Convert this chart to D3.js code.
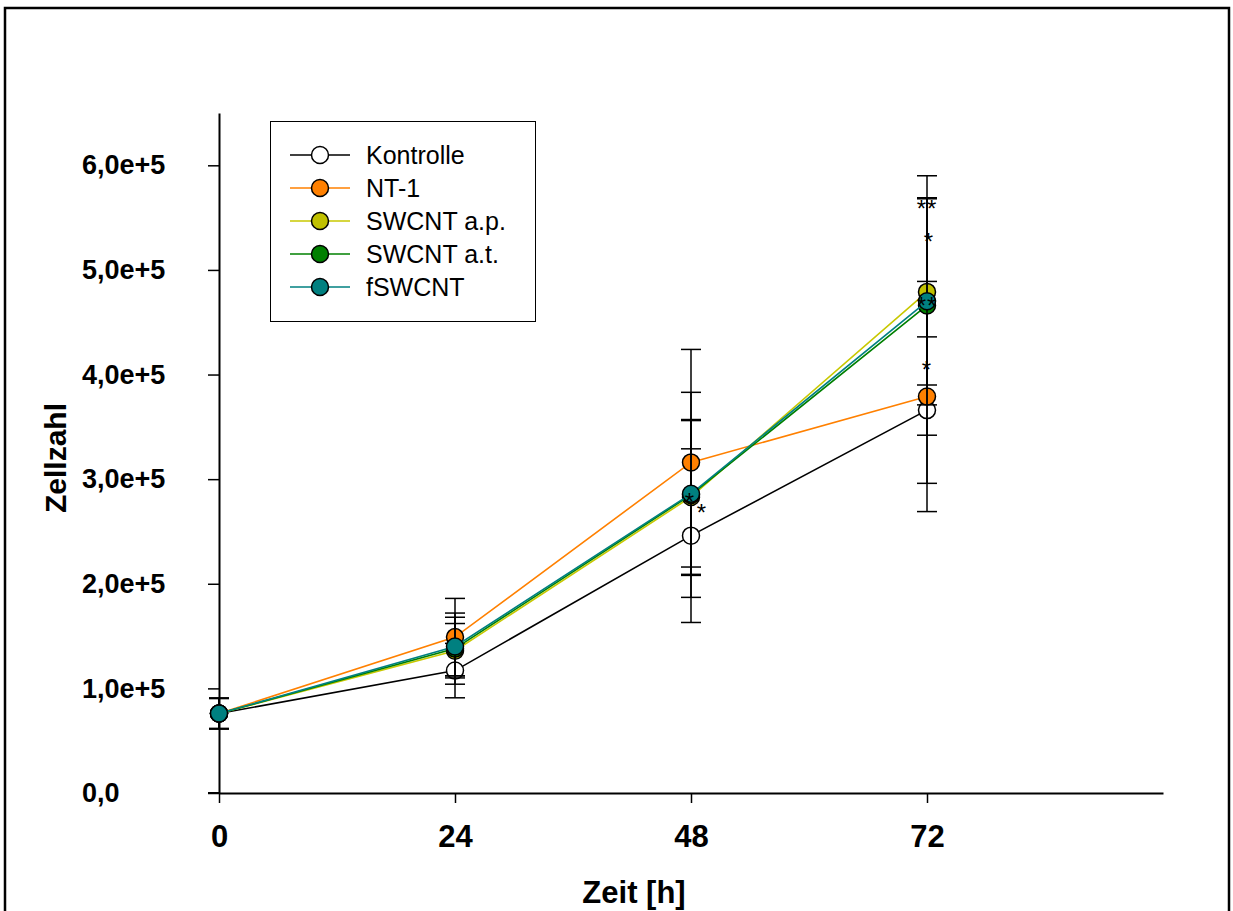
<!DOCTYPE html>
<html><head><meta charset="utf-8">
<script src="https://cdn.jsdelivr.net/npm/d3@7"></script>
<style>body{margin:0;background:#fff}svg{display:block}</style>
</head><body>
<script>
const times = [0, 24, 48, 72];
const seriesNames = ["Kontrolle", "NT-1", "SWCNT a.p.", "SWCNT a.t.", "fSWCNT"];
const kontrolle = [76000, 117000, 246000, 366000];
const kontrolleErr = [14500, 26000, 83000, 70000];
const nt1 = [76000, 149000, 316000, 379000];
const nt1Err = [14500, 37000, 108000, 110000];
const swcntAp = [76000, 136000, 283000, 479000];
const swcntApErr = [14500, 26000, 74000, 89000];
const swcntAt = [76000, 138000, 285000, 466000];
const swcntAtErr = [14500, 34000, 98000, 124000];
const fswcnt = [76000, 140000, 286000, 470000];
const fswcntErr = [14500, 28000, 70000, 99000];
const lineColors = ["#000000", "#FF8000", "#C8C800", "#008000", "#008080"];
const fillColors = ["#FFFFFF", "#FF8000", "#C0C000", "#008000", "#008080"];
const yTicks = [0, 100000, 200000, 300000, 400000, 500000, 600000];
const yTickLabels = ["0,0", "1,0e+5", "2,0e+5", "3,0e+5", "4,0e+5", "5,0e+5", "6,0e+5"];
const xTicks = [0, 24, 48, 72];
const xTickLabels = ["0", "24", "48", "72"];
// significance marks: time, value, text
const sigTime = [72, 72.2, 72, 72, 47.9, 49.1];
const sigValue = [565000, 533000, 472000, 411000, 285000, 274000];
const sigText = ["**", "*", "**", "*", "*", "*"];

const values = [kontrolle, nt1, swcntAp, swcntAt, fswcnt];
const errs = [kontrolleErr, nt1Err, swcntApErr, swcntAtErr, fswcntErr];

const W = 1233, H = 911;
const svg = d3.select("body").append("svg").attr("width", W).attr("height", H);
svg.append("rect").attr("x", 5).attr("y", 8).attr("width", 1224).attr("height", 920)
  .attr("fill", "none").attr("stroke", "#000").attr("stroke-width", 2.5);

const x = d3.scaleLinear().domain([0, 96]).range([219, 1163]);
const y = d3.scaleLinear().domain([0, 650000]).range([793, 113]);

const font = "Arial, 'Liberation Sans', sans-serif";

// axes
const yAxis = d3.axisLeft(y).tickValues(yTicks).tickFormat((d, i) => yTickLabels[i]).tickSizeOuter(0).tickSizeInner(11).tickPadding(45);
const gy = svg.append("g").attr("transform", "translate(219,0)").call(yAxis);
const xAxis = d3.axisBottom(x).tickValues(xTicks).tickFormat((d, i) => xTickLabels[i]).tickSizeOuter(0).tickSizeInner(10).tickPadding(22);
const gx = svg.append("g").attr("transform", "translate(0,793)").call(xAxis);
[gx, gy].forEach(g => {
  g.select(".domain").attr("stroke", "#000").attr("stroke-width", 2);
  g.selectAll(".tick line").attr("stroke", "#000").attr("stroke-width", 1.5);
  g.selectAll(".tick text").attr("fill", "#000").style("font-family", font).style("font-weight", "bold");
});
gy.selectAll(".tick text").style("font-size", "27px").attr("text-anchor", "start").attr("x", -137);
gx.selectAll(".tick text").style("font-size", "31px");
// extend x-axis line to the left under y tick at 0
svg.append("line").attr("x1", 208).attr("x2", 219).attr("y1", 793).attr("y2", 793).attr("stroke", "#000").attr("stroke-width", 2);

// axis titles
svg.append("text").attr("x", 634).attr("y", 903).attr("text-anchor", "middle")
  .style("font-family", font).style("font-weight", "bold").style("font-size", "31px").text("Zeit [h]");
svg.append("text").attr("transform", "translate(66,458) rotate(-90)").attr("text-anchor", "middle")
  .style("font-family", font).style("font-weight", "bold").style("font-size", "30px").text("Zellzahl");

// series
const line = d3.line().x((d, i) => x(times[i])).y(d => y(d));
values.forEach((vals, s) => {
  const g = svg.append("g");
  g.append("path").datum(vals).attr("d", line).attr("fill", "none")
    .attr("stroke", lineColors[s]).attr("stroke-width", 1.6);
  vals.forEach((v, i) => {
    const e = errs[s][i];
    const cx = x(times[i]);
    g.append("line").attr("x1", cx).attr("x2", cx).attr("y1", y(v + e)).attr("y2", y(v - e)).attr("stroke", "#000").attr("stroke-width", 1.5);
    [v + e, v - e].forEach(c => {
      g.append("line").attr("x1", cx - 10).attr("x2", cx + 10).attr("y1", y(c)).attr("y2", y(c)).attr("stroke", "#000").attr("stroke-width", 1.5);
    });
  });
  g.selectAll("circle").data(vals).join("circle")
    .attr("cx", (d, i) => x(times[i])).attr("cy", d => y(d)).attr("r", 8.5)
    .attr("fill", fillColors[s]).attr("stroke", "#000").attr("stroke-width", 1.5);
});

// significance marks
sigText.forEach((t, i) => {
  svg.append("text").attr("x", x(sigTime[i])).attr("y", y(sigValue[i])).attr("dy", "0.62em")
    .attr("text-anchor", "middle").style("font-family", font).style("font-size", "24px").attr("fill", "#000")
    .attr("letter-spacing", "1px").text(t);
});

// legend
const lg = svg.append("g");
lg.append("rect").attr("x", 270.5).attr("y", 121.5).attr("width", 265).attr("height", 200)
  .attr("fill", "#fff").attr("stroke", "#000").attr("stroke-width", 1);
seriesNames.forEach((n, i) => {
  const ly = 155 + i * 33;
  lg.append("line").attr("x1", 290).attr("x2", 350).attr("y1", ly).attr("y2", ly).attr("stroke", lineColors[i]).attr("stroke-width", 1.6);
  lg.append("circle").attr("cx", 320).attr("cy", ly).attr("r", 8.5).attr("fill", fillColors[i]).attr("stroke", "#000").attr("stroke-width", 1.5);
  lg.append("text").attr("x", 366).attr("y", ly).attr("dy", "0.36em").style("font-family", font).style("font-size", "25px").attr("fill", "#000").text(n);
});
</script>
</body></html>
